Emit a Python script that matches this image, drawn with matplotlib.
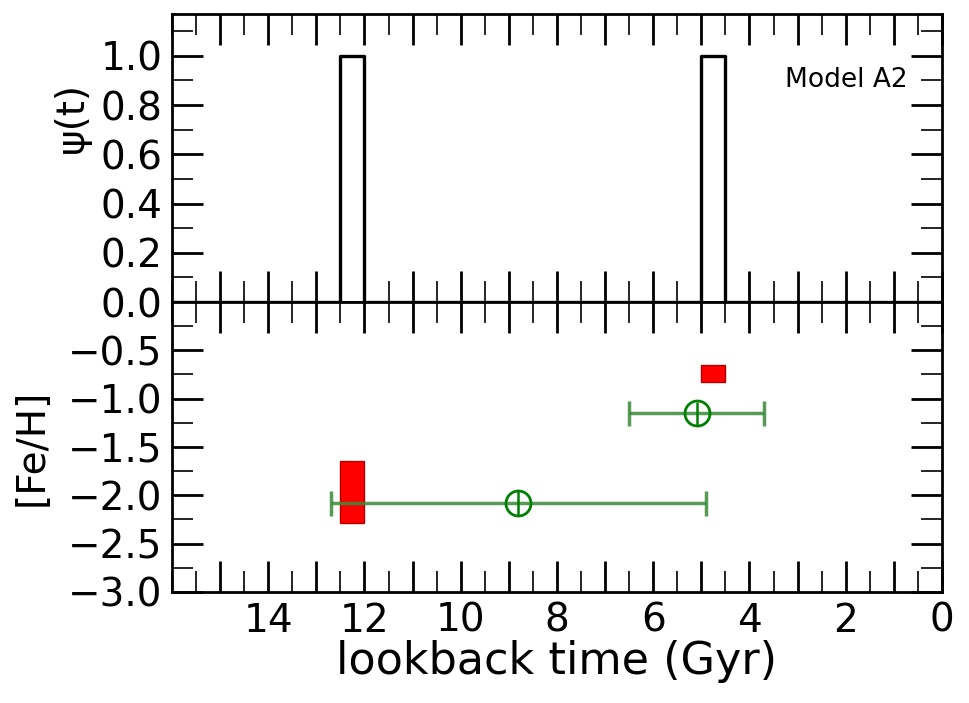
import numpy as np
import matplotlib
matplotlib.use("Agg")
import matplotlib.pyplot as plt
from matplotlib.ticker import MultipleLocator

# ---------- data ----------
# star formation bursts (lookback time, Gyr)
burst_start = [12.5, 5.0]
burst_end = [12.0, 4.5]
burst_psi = [1.0, 1.0]

# model [Fe/H] ranges for each burst
rect_t_lo = [12.0, 4.5]
rect_t_hi = [12.5, 5.0]
rect_feh_lo = [-2.29, -0.83]
rect_feh_hi = [-1.645, -0.65]

# observed populations
obs_t = [8.8, 5.1]
obs_terr = [3.9, 1.4]
obs_feh = [-2.08, -1.15]
obs_feherr = [0.12, 0.12]

xtick_vals = list(range(0, 16))
xtick_labels = [str(v) if v % 2 == 0 else '' for v in xtick_vals]

# ---------- figure ----------
fig = plt.figure(figsize=(9.69, 7.03), dpi=100)
ax1 = fig.add_axes([0.1775, 0.5704, 0.7946, 0.4097])
ax2 = fig.add_axes([0.1775, 0.158, 0.7946, 0.4124])

# top panel: psi(t) as a step outline
xs, ys = [16.0], [0.0]
for s, e, v in zip(burst_start, burst_end, burst_psi):
    xs += [s, s, e, e]
    ys += [0.0, v, v, 0.0]
xs.append(0.0)
ys.append(0.0)
ax1.plot(xs, ys, color='black', lw=2.4)

ax1.text(0.955, 0.77, 'Model A2', transform=ax1.transAxes,
         ha='right', va='center', fontsize=19)

# bottom panel
widths = np.array(rect_t_hi) - np.array(rect_t_lo)
heights = np.array(rect_feh_hi) - np.array(rect_feh_lo)
ax2.bar(rect_t_lo, heights, width=widths, bottom=rect_feh_lo, align='edge',
        facecolor='red', edgecolor='#b00000', linewidth=1, zorder=2)

ax2.errorbar(obs_t, obs_feh, xerr=obs_terr, fmt='none', ecolor='#3a8a3a',
             elinewidth=2.5, capsize=9, capthick=2.5, alpha=0.85, zorder=3)
ax2.errorbar(obs_t, obs_feh, yerr=obs_feherr, fmt='o', mfc='none', mec='#008000',
             ms=18, mew=2, ecolor='#008000', elinewidth=1.8, capsize=0, zorder=4)

# ---------- axes styling ----------
for ax in (ax1, ax2):
    ax.set_xlim(16, 0)
    ax.set_xticks(xtick_vals)
    ax.xaxis.set_minor_locator(MultipleLocator(0.5))
    ax.tick_params(which='major', direction='in', length=22, width=2,
                   top=True, right=True, labelsize=28, pad=7)
    ax.tick_params(which='minor', direction='in', length=15, width=1.2,
                   top=True, right=True)
    for sp in ax.spines.values():
        sp.set_linewidth(2)

ax1.set_xticklabels([])
ax1.set_ylim(0, 1.17)
ax1.set_yticks(np.arange(0, 1.01, 0.2))
ax1.yaxis.set_minor_locator(MultipleLocator(0.1))
ax1.set_ylabel('ψ(t)', fontsize=28)
ax1.yaxis.set_label_coords(-0.106, 0.64)

ax2.set_xticklabels(xtick_labels)
ax2.set_ylim(-3, 0)
ax2.set_yticks(np.arange(-3.0, -0.49, 0.5))
ax2.yaxis.set_minor_locator(MultipleLocator(0.25))
ax2.set_ylabel('[Fe/H]', fontsize=28)
ax2.yaxis.set_label_coords(-0.158, 0.5)
ax2.set_xlabel('lookback time (Gyr)', fontsize=32, labelpad=0)

fig.savefig('out.png', dpi=100)
